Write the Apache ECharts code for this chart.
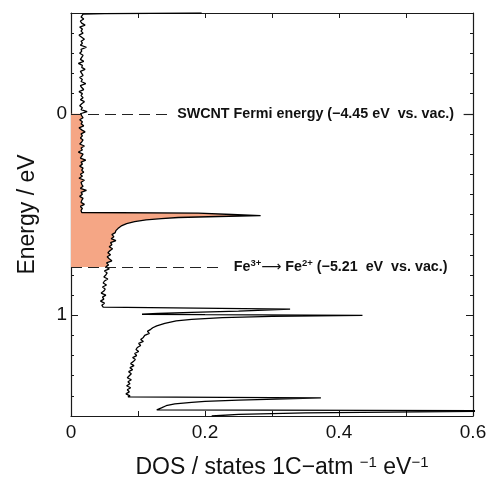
<!DOCTYPE html>
<html><head><meta charset="utf-8">
<script src="https://cdn.jsdelivr.net/npm/echarts@6/dist/echarts.min.js"></script>
<style>html,body{margin:0;padding:0;background:#fff}#c{width:489px;height:477px}</style>
</head><body><div id="c"></div>
<script>
// Each point: [energy (eV, vs SWCNT Fermi level), DOS (states 1C-atm^-1 eV^-1)]
const topEdge = [[-0.500,0.195],[-0.497,0.050],[-0.494,0.018]];
const valenceFlat = [
 [-0.49,0.017],[-0.48,0.015],[-0.47,0.019],[-0.46,0.014],[-0.45,0.016],[-0.44,0.021],[-0.43,0.013],[-0.42,0.017],[-0.41,0.015],[-0.40,0.018],
 [-0.39,0.012],[-0.38,0.016],[-0.37,0.020],[-0.36,0.015],[-0.35,0.017],[-0.34,0.014],[-0.33,0.023],[-0.32,0.015],[-0.31,0.016],[-0.30,0.013],
 [-0.29,0.018],[-0.28,0.016],[-0.27,0.014],[-0.26,0.019],[-0.25,0.011],[-0.24,0.017],[-0.23,0.016],[-0.22,0.021],[-0.21,0.014],[-0.20,0.016],
 [-0.19,0.018],[-0.18,0.013],[-0.17,0.017],[-0.16,0.015],[-0.15,0.022],[-0.14,0.014],[-0.13,0.016],[-0.12,0.019],[-0.11,0.012],[-0.10,0.017],
 [-0.09,0.015],[-0.08,0.018],[-0.07,0.014],[-0.06,0.020],[-0.05,0.016],[-0.04,0.013],[-0.03,0.017],[-0.02,0.015],[-0.01,0.024],[0.00,0.014],
 [0.01,0.016],[0.02,0.018],[0.03,0.013],[0.04,0.017],[0.05,0.015],[0.06,0.019],[0.07,0.012],[0.08,0.016],[0.09,0.021],[0.10,0.015],
 [0.11,0.017],[0.12,0.014],[0.13,0.018],[0.14,0.016],[0.15,0.013],[0.16,0.020],[0.17,0.015],[0.18,0.017],[0.19,0.011],[0.20,0.018],
 [0.21,0.016],[0.22,0.014],[0.23,0.022],[0.24,0.015],[0.25,0.017],[0.26,0.013],[0.27,0.018],[0.28,0.016],[0.29,0.019],[0.30,0.014],
 [0.31,0.017],[0.32,0.012],[0.33,0.020],[0.34,0.015],[0.35,0.016],[0.36,0.018],[0.37,0.014],[0.38,0.023],[0.39,0.015],[0.40,0.017],
 [0.41,0.013],[0.42,0.018],[0.43,0.016],[0.44,0.015],[0.45,0.020],[0.46,0.014],[0.47,0.017],[0.48,0.015],[0.49,0.016],[0.492,0.016]
];
const vhs1 = [
 [0.493,0.190],[0.500,0.240],[0.506,0.283],[0.510,0.220],[0.515,0.160],[0.520,0.135],[0.527,0.112],
 [0.535,0.095],[0.545,0.083],[0.555,0.076],[0.570,0.070],[0.580,0.067]
];
const plateau1 = [
 [0.59,0.066],[0.60,0.061],[0.61,0.064],[0.62,0.060],[0.63,0.067],[0.64,0.059],[0.65,0.061],[0.66,0.057],[0.67,0.062],[0.68,0.058],
 [0.69,0.055],[0.70,0.059],[0.71,0.054],[0.72,0.057],[0.73,0.061],[0.74,0.053],[0.75,0.056],[0.76,0.052],[0.77,0.057],[0.78,0.050],
 [0.79,0.054],[0.80,0.052],[0.81,0.049],[0.82,0.055],[0.83,0.050],[0.84,0.048],[0.85,0.053],[0.86,0.047],[0.87,0.051],[0.88,0.049],
 [0.89,0.045],[0.90,0.052],[0.91,0.047],[0.92,0.049],[0.93,0.044],[0.94,0.050],[0.95,0.046],[0.96,0.048],[0.969,0.046]
];
const vhs2 = [
 [0.970,0.327],[0.980,0.250],[0.986,0.180],[0.991,0.130],[0.995,0.106],[0.997,0.200],[1.001,0.435],
 [1.006,0.300],[1.012,0.226],[1.020,0.180],[1.028,0.157],[1.040,0.140],[1.053,0.128],[1.062,0.122]
];
const plateau2 = [
 [1.07,0.119],[1.08,0.114],[1.09,0.117],[1.10,0.110],[1.11,0.108],[1.12,0.104],[1.13,0.108],[1.14,0.101],[1.15,0.104],[1.16,0.099],
 [1.17,0.097],[1.18,0.101],[1.19,0.095],[1.20,0.098],[1.21,0.092],[1.22,0.096],[1.23,0.093],[1.24,0.089],[1.25,0.094],[1.26,0.088],
 [1.27,0.092],[1.28,0.086],[1.29,0.090],[1.30,0.087],[1.31,0.084],[1.32,0.090],[1.33,0.085],[1.34,0.088],[1.35,0.083],[1.36,0.089],
 [1.37,0.084],[1.38,0.087],[1.39,0.082],[1.40,0.088],[1.405,0.085]
];
const vhs3 = [
 [1.410,0.373],[1.415,0.320],[1.421,0.250],[1.427,0.200],[1.432,0.180],[1.440,0.155],[1.449,0.142],[1.460,0.135],[1.470,0.128],
 [1.474,0.700],[1.484,0.350],[1.492,0.250],[1.500,0.210]
];
const fermiLevel = 0;       // SWCNT Fermi energy (-4.45 eV vs. vac.)
const feLevel = 0.76;       // Fe3+ -> Fe2+ (-5.21 eV vs. vac.)
const fermiDashEnd = 0.148;
const fermiDashRestart = 0.586;
const feDashEnd = 0.222;
const xTickLabels = ['0','0.2','0.4','0.6'];
const yTickLabels = ['0','1'];
const yMajorTicks = [0, 1];

const curve = [].concat(topEdge, valenceFlat, vhs1, plateau1, vhs2, plateau2, vhs3);

const FONT = 'Liberation Sans, Arial, sans-serif';
const chart = echarts.init(document.getElementById('c'));
const axisCol = '#1a1a1a';
function xAx(pos, labels){
  return {type:'value', position:pos, min:0, max:0.6, interval:0.1,
    axisLine:{show:true, onZero:false, lineStyle:{color:axisCol, width:1.2}},
    axisTick:{show:true, inside:true, length:5, lineStyle:{color:axisCol, width:1}},
    splitLine:{show:false},
    axisLabel:{show:labels, margin:7, fontSize:19, color:'#111', fontFamily:FONT,
      formatter:v=>{const s=String(Math.round(v*10)/10); return xTickLabels.includes(s)?s:'';}},
  };
}
function yAx(pos, major, labels){
  const a = {type:'value', position:pos, min:-0.5, max:1.5, inverse:true, interval:0.1,
    axisLine:{show:!major, onZero:false, lineStyle:{color:axisCol, width:1.2}},
    axisTick:{show:true, inside:true, length:major?7:3, lineStyle:{color:axisCol, width:1}},
    splitLine:{show:false},
    axisLabel:{show:labels, margin:4, fontSize:19, color:'#111', fontFamily:FONT,
      formatter:v=>{const s=String(Math.round(v*10)/10); return yTickLabels.includes(s)?s:'';}},
  };
  if (major) a.axisTick.customValues = yMajorTicks;
  return a;
}
const xa = xAx('bottom', true);
xa.name = 'DOS / states 1C\u2212atm {s|\u22121} eV{s|\u22121}';
xa.nameLocation = 'middle';
xa.nameGap = 39;
xa.nameTextStyle = {fontSize:23, color:'#111', fontFamily:FONT, padding:[0,0,0,20],
  rich:{s:{fontSize:15, color:'#111', fontFamily:FONT, verticalAlign:'top', lineHeight:26}}};
const ya = yAx('left', false, true);
ya.name = 'Energy / eV';
ya.nameLocation = 'middle';
ya.nameGap = 32;
ya.nameTextStyle = {fontSize:23, color:'#111', fontFamily:FONT};

const labFont = {color:'#111', fontWeight:'bold', fontSize:14.3, fontFamily:FONT};
const option = {
  animation:false,
  backgroundColor:'#fff',
  grid:{left:71, right:16, top:13, bottom:61, containLabel:false, outerBoundsMode:'none'},
  xAxis:[xa, xAx('top', false)],
  yAxis:[ya, yAx('left', true, false), yAx('right', false, false), yAx('right', true, false)],
  series:[
    {type:'custom', xAxisIndex:0, yAxisIndex:0, z:1, silent:true,
     data:[[0, fermiLevel]],
     renderItem:(params, api)=>{
       const pts=[api.coord([0, fermiLevel])];
       curve.forEach(p=>{ if(p[0]>=fermiLevel && p[0]<=feLevel) pts.push(api.coord([p[1], p[0]])); });
       pts.push(api.coord([0, feLevel]));
       return {type:'polygon', shape:{points:pts}, style:{fill:'#f5a685'}};
     }},
    {type:'line', xAxisIndex:0, yAxisIndex:0, z:3, showSymbol:false, symbol:'none', clip:true,
     data: curve.map(p=>[p[1], p[0]]),
     lineStyle:{color:'#000', width:1.3},
     markLine:{silent:true, symbol:'none', animation:false,
       lineStyle:{color:'#222', width:1.2, type:[11,6]},
       label:{show:false},
       emphasis:{disabled:true},
       data:[
         [{coord:[0, fermiLevel]},
          {coord:[fermiDashEnd, fermiLevel],
           label:{show:true, position:'end', distance:7, ...labFont,
             formatter:'SWCNT Fermi energy (\u22124.45 eV  vs. vac.)'}}],
         [{coord:[fermiDashRestart, fermiLevel]}, {coord:[0.6, fermiLevel]}],
         [{coord:[0, feLevel]},
          {coord:[feDashEnd, feLevel],
           label:{show:true, position:'end', distance:14, ...labFont,
             formatter:'{n|Fe}{s|3+}{a|\u27F6}{n| Fe}{s|2+}{n| (\u22125.21  eV  vs. vac.)}',
             rich:{n:{...labFont, lineHeight:18},
                   a:{...labFont, fontFamily:'DejaVu Sans', fontWeight:'normal', fontSize:14, lineHeight:18},
                   s:{...labFont, fontSize:9.5, verticalAlign:'top', lineHeight:18}}}}]
       ]}}
  ]
};
chart.setOption(option);
</script></body></html>
